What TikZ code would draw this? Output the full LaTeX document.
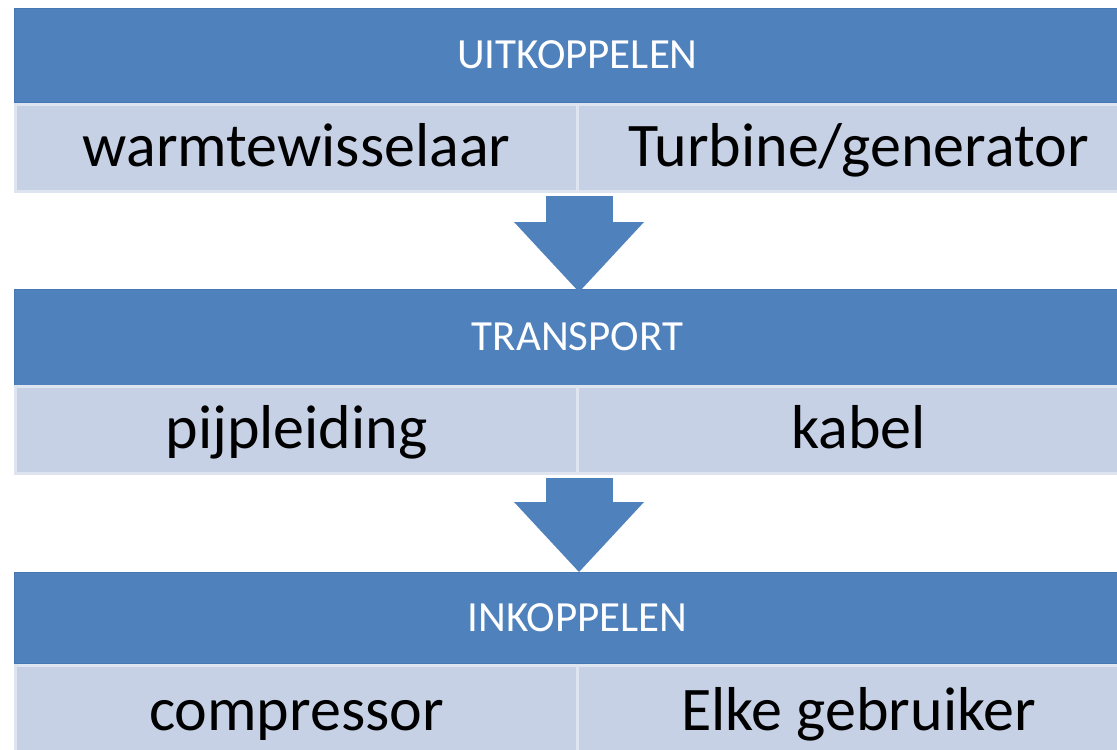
\documentclass[tikz,border=0pt]{standalone}
\usepackage{fontspec}
\setmainfont{Carlito}
\usepackage{tikz}
\usetikzlibrary{arrows.meta,calc}
\definecolor{bandblue}{HTML}{4F81BD}
\definecolor{bandedge}{HTML}{4677B3}
\definecolor{celllight}{HTML}{C6D1E5}
\definecolor{cellline}{HTML}{DEE5F1}
\tikzset{
  band/.style={fill=bandblue, draw=bandedge, line width=0.5pt, anchor=north west,
    inner sep=0pt, minimum width=563pt, text=white,
    font=\fontsize{21.5}{26}\selectfont, text height=16.5pt, text depth=3.5pt},
  cell/.style={fill=celllight, draw=cellline, line width=1.5pt, anchor=north west,
    inner sep=0pt, minimum width=281pt, minimum height=43.5pt,
    font=\fontsize{31}{36}\selectfont, text height=24pt, text depth=5.5pt},
  flow/.style={draw=bandblue, line width=33.5pt,
    -{Triangle[width=65pt,length=35pt,line width=0pt]}}
}
\begin{document}
\begin{tikzpicture}[x=0.5pt,y=-0.5pt]
\path[fill=white, use as bounding box] (0,0) rectangle (1117,749);
\clip (0,0) rectangle (1117,749);
% uitkoppelen
\node[band, minimum height=47pt] (uit) at (14,8) {UITKOPPELEN};
\node[cell] (warmte) at (14,103) {warmtewisselaar};
\node[cell] (turbine) at (576,103) {Turbine/generator};
% transport
\node[band, minimum height=48pt] (trans) at (14,289) {TRANSPORT};
\node[cell] (pijp) at (14,385) {pijpleiding};
\node[cell] (kabel) at (576,385) {kabel};
% inkoppelen
\node[band, minimum height=45.5pt] (ink) at (14,572) {INKOPPELEN};
\node[cell, minimum height=46pt] (comp) at (14,664) {compressor};
\node[cell, minimum height=46pt] (elke) at (576,664) {Elke gebruiker};
% pijlen
\draw[flow, shorten <=1.5pt, shorten >=-1.5pt] (warmte.south east) -- (warmte.south east |- trans.north);
\draw[flow, shorten <=1.5pt] (pijp.south east) -- (pijp.south east |- ink.north);
\end{tikzpicture}
\end{document}
